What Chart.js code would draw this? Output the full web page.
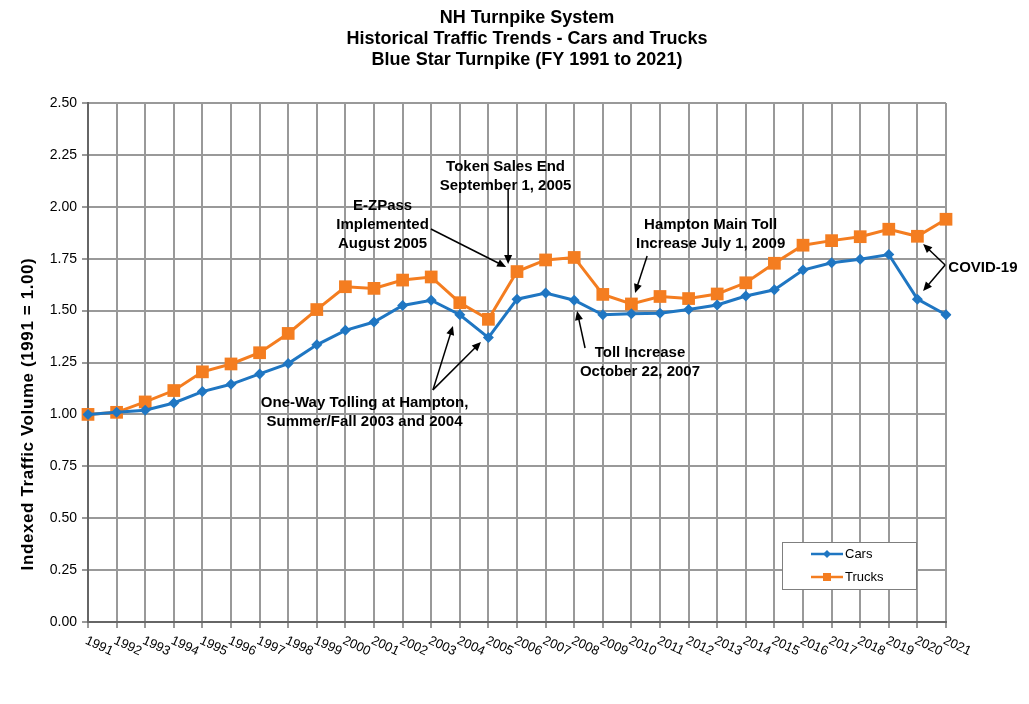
<!DOCTYPE html>
<html lang="en">
<head>
  <meta charset="utf-8">
  <title>Blue Star Turnpike</title>
  <style>
    html, body { margin: 0; padding: 0; background: #fff; }
    #wrap { width: 1029px; height: 704px; }
  </style>
</head>
<body>
  <div id="wrap"><canvas id="myChart" width="1029" height="704"></canvas></div>

  <script src="https://cdn.jsdelivr.net/npm/chart.js@4"></script>
  <script>
    var years = ['1991', '1992', '1993', '1994', '1995', '1996', '1997', '1998', '1999', '2000',
                 '2001', '2002', '2003', '2004', '2005', '2006', '2007', '2008', '2009', '2010',
                 '2011', '2012', '2013', '2014', '2015', '2016', '2017', '2018', '2019', '2020', '2021'];
    var cars = [1.00, 1.01, 1.02, 1.055, 1.11, 1.145, 1.195, 1.245, 1.335, 1.405,
                1.445, 1.525, 1.55, 1.48, 1.37, 1.555, 1.585, 1.55, 1.48, 1.485,
                1.487, 1.505, 1.527, 1.57, 1.60, 1.695, 1.73, 1.747, 1.77, 1.555, 1.48];
    var trucks = [1.00, 1.01, 1.06, 1.115, 1.205, 1.243, 1.297, 1.39, 1.505, 1.615,
                  1.607, 1.647, 1.662, 1.538, 1.458, 1.688, 1.744, 1.756, 1.578, 1.532,
                  1.568, 1.558, 1.58, 1.634, 1.728, 1.815, 1.837, 1.856, 1.892, 1.858, 1.94];
    var yTicks = [0, 0.25, 0.5, 0.75, 1.0, 1.25, 1.5, 1.75, 2.0, 2.25, 2.5];
    var titleLines = ['NH Turnpike System', 'Historical Traffic Trends - Cars and Trucks', 'Blue Star Turnpike (FY 1991 to 2021)'];
    var yTitle = 'Indexed Traffic Volume (1991 = 1.00)';

    // notes: text centre at (year, value), arrows from -> to, all in data units
    var notes = [
      { lines: ['E-ZPass', 'Implemented', 'August 2005'], at: [2001.30, 2.004], lh: 19,
        arrows: [[[2002.99, 1.893], [2005.62, 1.710]]] },
      { lines: ['Token Sales End', 'September 1, 2005'], at: [2005.60, 2.193], lh: 19,
        arrows: [[[2005.69, 2.091], [2005.69, 1.724]]] },
      { lines: ['One-Way Tolling at Hampton,', 'Summer/Fall 2003 and 2004'], at: [2000.67, 1.055], lh: 19,
        arrows: [[[2003.06, 1.118], [2003.76, 1.426]], [[2003.06, 1.118], [2004.74, 1.349]]] },
      { lines: ['Toll Increase', 'October 22, 2007'], at: [2010.30, 1.296], lh: 19,
        arrows: [[[2008.38, 1.320], [2008.10, 1.498]]] },
      { lines: ['Hampton Main Toll', 'Increase July 1, 2009'], at: [2012.77, 1.912], lh: 19,
        arrows: [[[2010.55, 1.763], [2010.13, 1.585]]] },
      { lines: ['COVID-19'], at: [2022.29, 1.705], lh: 19,
        arrows: [[[2020.97, 1.720], [2020.20, 1.821]], [[2020.97, 1.720], [2020.20, 1.594]]] }
    ];

    var blue = '#1f76c2';
    var orange = '#f47d20';
    var fam = '"Liberation Sans", Arial, sans-serif';

    function drawArrow(ctx, x1, y1, x2, y2) {
      var ang = Math.atan2(y2 - y1, x2 - x1);
      var hl = 9, hw = 4;
      ctx.beginPath();
      ctx.moveTo(x1, y1);
      ctx.lineTo(x2 - Math.cos(ang) * hl * 0.8, y2 - Math.sin(ang) * hl * 0.8);
      ctx.stroke();
      ctx.beginPath();
      ctx.moveTo(x2, y2);
      ctx.lineTo(x2 - Math.cos(ang) * hl - Math.sin(ang) * hw, y2 - Math.sin(ang) * hl + Math.cos(ang) * hw);
      ctx.lineTo(x2 - Math.cos(ang) * hl + Math.sin(ang) * hw, y2 - Math.sin(ang) * hl - Math.cos(ang) * hw);
      ctx.closePath();
      ctx.fill();
    }

    var extras = {
      id: 'extras',
      afterDraw: function(chart) {
        var ctx = chart.ctx;
        var xs = chart.scales.x, ys = chart.scales.y;
        var area = chart.chartArea;
        var px = function(yr) { return xs.getPixelForValue(yr - 1991); };
        ctx.save();

        // title
        ctx.fillStyle = '#000';
        ctx.font = 'bold 18px ' + fam;
        ctx.textAlign = 'center';
        ctx.textBaseline = 'middle';
        titleLines.forEach(function(t, i) {
          ctx.fillText(t, 527, 18 + i * 21);
        });

        // y axis title
        ctx.save();
        ctx.translate(28, 414);
        ctx.rotate(-Math.PI / 2);
        ctx.font = 'bold 17px ' + fam;
        ctx.letterSpacing = '0.6px';
        ctx.fillText(yTitle, 0, 0);
        ctx.restore();

        // sloped year labels
        ctx.font = '13px ' + fam;
        ctx.textAlign = 'left';
        years.forEach(function(y, i) {
          ctx.save();
          ctx.translate(xs.getPixelForValue(i) - 2, area.bottom + 18);
          ctx.rotate(25 * Math.PI / 180);
          ctx.fillText(y, 0, 0);
          ctx.restore();
        });

        // annotations
        ctx.font = 'bold 15px ' + fam;
        ctx.textAlign = 'center';
        ctx.strokeStyle = '#000';
        ctx.lineWidth = 1.5;
        notes.forEach(function(n) {
          var cx = px(n.at[0]), cy = ys.getPixelForValue(n.at[1]);
          n.lines.forEach(function(l, i) {
            ctx.fillText(l, cx, cy + i * n.lh);
          });
          n.arrows.forEach(function(a) {
            drawArrow(ctx, px(a[0][0]), ys.getPixelForValue(a[0][1]),
                           px(a[1][0]), ys.getPixelForValue(a[1][1]));
          });
        });

        // legend box
        var bx = area.right - 164, by = area.bottom - 80, bw = 134, bh = 47;
        ctx.fillStyle = '#fff';
        ctx.fillRect(bx, by, bw, bh);
        ctx.strokeStyle = '#7f7f7f';
        ctx.lineWidth = 1;
        ctx.strokeRect(bx + 0.5, by + 0.5, bw, bh);
        ctx.font = '13px ' + fam;
        ctx.textAlign = 'left';
        chart.data.datasets.forEach(function(ds, i) {
          var ly = by + 12 + i * 23;
          ctx.strokeStyle = ds.borderColor;
          ctx.lineWidth = 2.5;
          ctx.beginPath();
          ctx.moveTo(bx + 29, ly);
          ctx.lineTo(bx + 61, ly);
          ctx.stroke();
          ctx.fillStyle = ds.backgroundColor;
          if (ds.pointStyle === 'rect') {
            ctx.fillRect(bx + 41, ly - 4, 8, 8);
          } else {
            ctx.beginPath();
            ctx.moveTo(bx + 45, ly - 4);
            ctx.lineTo(bx + 49, ly);
            ctx.lineTo(bx + 45, ly + 4);
            ctx.lineTo(bx + 41, ly);
            ctx.closePath();
            ctx.fill();
          }
          ctx.fillStyle = '#000';
          ctx.fillText(ds.label, bx + 63, ly);
        });
        ctx.restore();
      }
    };

    var ctx = document.getElementById('myChart').getContext('2d');
    var chart = new Chart(ctx, {
      type: 'line',
      data: {
        labels: years,
        datasets: [{
          label: 'Cars',
          data: cars,
          borderColor: blue,
          backgroundColor: blue,
          borderWidth: 3,
          pointStyle: 'rectRot',
          pointRadius: 5.5,
          pointBorderWidth: 0,
          tension: 0
        }, {
          label: 'Trucks',
          data: trucks,
          borderColor: orange,
          backgroundColor: orange,
          borderWidth: 3,
          pointStyle: 'rect',
          pointRadius: 9,
          pointBorderWidth: 0,
          tension: 0
        }]
      },
      options: {
        responsive: false,
        animation: false,
        layout: { padding: { top: 103, right: 83, left: 0, bottom: 0 } },
        plugins: {
          legend: { display: false },
          tooltip: { enabled: false }
        },
        scales: {
          x: {
            offset: false,
            ticks: { display: false },
            grid: { color: '#999', lineWidth: 2, tickLength: 6, offset: false },
            border: { color: '#666', width: 2 },
            afterFit: function(scale) { scale.height = 82; }
          },
          y: {
            min: 0,
            max: 2.5,
            afterBuildTicks: function(scale) {
              scale.ticks = yTicks.map(function(v) { return { value: v }; });
            },
            ticks: {
              color: '#000',
              font: { size: 14, family: fam },
              padding: 5,
              callback: function(v) { return v.toFixed(2); }
            },
            grid: { color: '#999', lineWidth: 2, tickLength: 6 },
            border: { color: '#666', width: 2 },
            afterFit: function(scale) { scale.width = 88; }
          }
        }
      },
      plugins: [extras]
    });
  </script>
</body>
</html>
